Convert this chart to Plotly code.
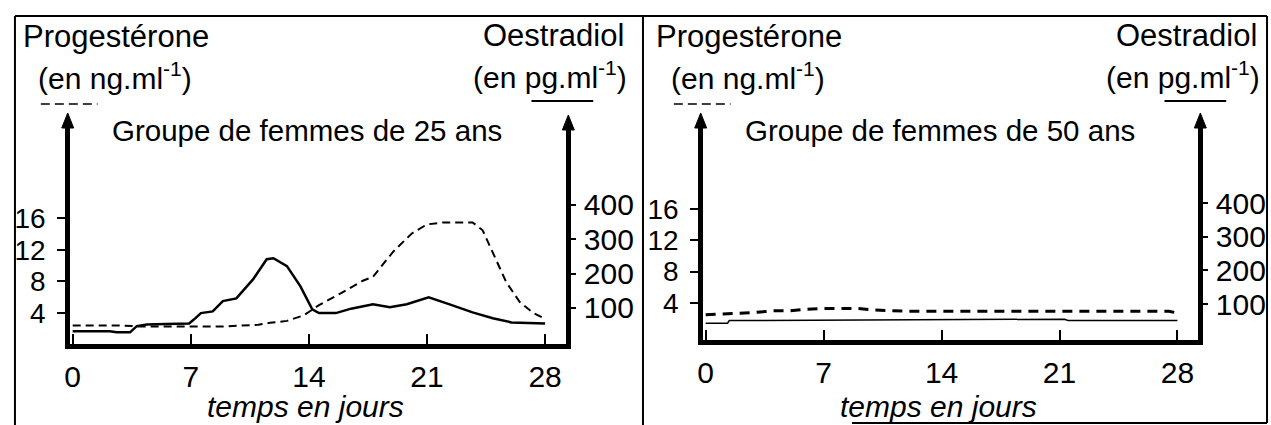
import plotly.graph_objects as go

W, H = 1271, 425
FONT = "Liberation Sans, Arial, sans-serif"

# ---------------- data ----------------
# Panel 1 : women aged 25
prog25_days = [0, 1, 2, 3, 4, 5, 6, 7, 8, 9, 10, 11, 11.7, 12.7, 13.7, 14.6, 15.8,
               16.5, 17.2, 17.8, 19, 20.1, 21, 22, 23, 23.7, 24.3, 25.1, 25.7, 26.5, 27.3, 28]
prog25_vals = [2.4, 2.4, 2.4, 2.4, 2.3, 2.3, 2.3, 2.3, 2.3, 2.3, 2.4, 2.5, 2.75, 3.0, 3.7, 5.0, 6.4,
               7.2, 8.1, 8.6, 11.8, 14.1, 15.25, 15.5, 15.5, 15.5, 14.5, 10.75, 7.9, 5.4, 4.0, 3.25]

oestr25_days = [0, 1, 2.2, 2.6, 3.4, 3.8, 4.4, 5.5, 6.9, 7.2, 7.6, 8.3, 8.9, 9.7, 10.7, 11.5,
                11.9, 12.7, 13.5, 14.2, 14.6, 15.6, 16.5, 17.8, 18.8, 19.8, 21.1, 22.3, 23.7,
                24.9, 26, 28]
oestr25_vals = [32, 32, 32, 29, 29, 47, 52, 53, 55, 67, 85, 90, 120, 128, 184, 242,
                245, 222, 163, 96, 85, 85, 98, 111, 102, 111, 131, 111, 87,
                70, 58, 55]

# Panel 2 : women aged 50
prog50_days = [0, 1, 2, 3, 4, 5, 6, 7, 8, 9, 10, 11, 12, 14, 21, 27.5, 28]
prog50_vals = [2.5, 2.6, 2.7, 2.8, 3.0, 3.0, 3.2, 3.3, 3.3, 3.3, 3.1, 3.0, 2.95, 2.95, 2.95, 2.95, 2.7]

oestr50_days = [0, 1.3, 1.4, 8, 20, 20.5, 21.3, 21.5, 28]
oestr50_vals = [43, 43, 51, 52, 53, 55, 55, 51, 51]

day_ticks = [0, 7, 14, 21, 28]
day_labels = ["0", "7", "14", "21", "28"]
prog_ticks = [4, 8, 12, 16]
prog_labels = ["4", "8", "12", "16"]
prog_extra_tick = [20]          # unlabelled tick at the top of the scale
oestr_ticks = [100, 200, 300, 400]
oestr_labels = ["100", "200", "300", "400"]


def px(x):
    return x / W


def py(y):
    return (H - y) / H


fig = go.Figure()
fig.add_trace(go.Scatter(x=prog25_days, y=prog25_vals, xaxis="x", yaxis="y", mode="lines",
                         line=dict(color="black", width=2, dash="8px,5px"), hoverinfo="skip"))
fig.add_trace(go.Scatter(x=oestr25_days, y=oestr25_vals, xaxis="x", yaxis="y2", mode="lines",
                         line=dict(color="black", width=2.5), hoverinfo="skip"))
fig.add_trace(go.Scatter(x=prog50_days, y=prog50_vals, xaxis="x2", yaxis="y3", mode="lines",
                         line=dict(color="black", width=3, dash="10px,7px"), hoverinfo="skip"))
fig.add_trace(go.Scatter(x=oestr50_days, y=oestr50_vals, xaxis="x2", yaxis="y4", mode="lines",
                         line=dict(color="black", width=1.5), hoverinfo="skip"))

common = dict(showgrid=False, zeroline=False, fixedrange=True, color="black")

# panel geometry (pixel positions of axis line centres)
P = [
    dict(left=62, right=565, bottom=346, top=125, xr=(-0.147, 29.23),
         yr=(0.127, 27.87), y2r=(-3.5, 633)),
    dict(left=698, right=1200, bottom=342, top=121, xr=(-0.148, 29.21),
         yr=(-0.664, 27.23), y2r=(-5.35, 643.6)),
]

layout = dict(width=W, height=H, margin=dict(l=0, r=0, t=0, b=0),
              paper_bgcolor="white", plot_bgcolor="white", showlegend=False,
              font=dict(family=FONT, color="black"))

names = [("xaxis", "xaxis3", "yaxis", "yaxis2", "yaxis5", "x", "y"),
         ("xaxis2", "xaxis4", "yaxis3", "yaxis4", "yaxis6", "x2", "y3")]

for p, (xa, xin, ya, ya2, yex, xid, yid) in zip(P, names):
    xdom = [px(p["left"] + 2.5), px(p["right"] - 2.5)]
    ydom = [py(p["bottom"] - 2.5), py(p["top"])]
    # labelled axis: ticks drawn inside (above the line), labels close to the line
    layout[xa] = dict(domain=xdom, range=list(p["xr"]), anchor=yid, showline=True,
                      linewidth=5, linecolor="black", ticks="inside", ticklen=10,
                      tickwidth=2, tickcolor="black", tickvals=day_ticks,
                      ticktext=day_labels, tickfont=dict(size=30, family=FONT),
                      ticklabelstandoff=2, **common)
    # twin axis: the part of the ticks below the line
    layout[xin] = dict(domain=xdom, range=list(p["xr"]), anchor=yid, overlaying=xid,
                       showline=False, ticks="outside", ticklen=7, tickwidth=2,
                       tickcolor="black", tickvals=day_ticks[1:], showticklabels=False,
                       **common)
    layout[ya] = dict(domain=ydom, range=list(p["yr"]), anchor=xid, side="left",
                      showline=True, linewidth=5, linecolor="black", ticks="outside",
                      ticklen=8, tickwidth=2, tickcolor="black", tickvals=prog_ticks,
                      ticktext=prog_labels, tickfont=dict(size=28, family=FONT),
                      ticklabelstandoff=6, **common)
    layout[yex] = dict(range=list(p["yr"]), anchor=xid, overlaying=yid, side="left",
                       showline=False, ticks="outside", ticklen=8, tickwidth=2,
                       tickcolor="black", tickvals=prog_extra_tick, showticklabels=False,
                       **common)
    layout[ya2] = dict(range=list(p["y2r"]), anchor=xid, overlaying=yid, side="right",
                       showline=True, linewidth=5, linecolor="black", ticks="outside",
                       ticklen=5, tickwidth=2, tickcolor="black", tickvals=oestr_ticks,
                       ticktext=oestr_labels, tickfont=dict(size=30, family=FONT),
                       ticklabelstandoff=2, **common)

fig.update_layout(**layout)

ann = []


def text(x, y, s, size=30, xanchor="center"):
    ann.append(dict(x=px(x), y=py(y), xref="paper", yref="paper", text=s, showarrow=False,
                    xanchor=xanchor, yanchor="middle", font=dict(size=size, family=FONT)))


for dx, age in [(0, "25"), (636, "50")]:
    text(111 + dx, 37, "Progestérone", size=31)
    text(110 + dx, 76, "(en ng.ml<sup>-1</sup>)")
    text(550 + dx, 35, "Oestradiol", size=31)
    text(547 + dx, 75, "(en pg.ml<sup>-1</sup>)")
    text(302 + dx, 130, "Groupe de femmes de " + age + " ans", size=29.5)
    text(301 + dx, 406, "<i>temps en jours</i>", size=30)

shapes = []
# arrow heads on top of the vertical axes (filled triangles)
for x, ytip in [(62, 113), (565, 115), (698, 113), (1200, 113)]:
    path = "M {:.5f},{:.5f} L {:.5f},{:.5f} L {:.5f},{:.5f} Z".format(
        px(x), py(ytip), px(x - 6), py(ytip + 15), px(x + 6), py(ytip + 15))
    shapes.append(dict(type="path", xref="paper", yref="paper", path=path,
                       fillcolor="black", line=dict(color="black", width=1)))
    shapes.append(dict(type="line", xref="paper", yref="paper", x0=px(x), x1=px(x),
                       y0=py(ytip + 12), y1=py(ytip + 30), line=dict(color="black", width=4)))

# legend keys under the axis names
for dx in [0, 636]:
    shapes.append(dict(type="line", xref="paper", yref="paper", x0=px(35 + dx), x1=px(92 + dx),
                       y0=py(104), y1=py(104), line=dict(color="black", width=1.5, dash="9px,5px")))
    shapes.append(dict(type="line", xref="paper", yref="paper", x0=px(528 + dx), x1=px(590 + dx),
                       y0=py(101), y1=py(101), line=dict(color="black", width=2)))
# frame
frame = [((9, 16), (1267, 16)), ((9, 16), (9, 425)), ((640, 16), (640, 425)),
         ((1267, 16), (1267, 423)), ((850, 423), (1267, 423))]
for (x0, y0), (x1, y1) in frame:
    shapes.append(dict(type="line", xref="paper", yref="paper", x0=px(x0), x1=px(x1),
                       y0=py(y0), y1=py(y1), line=dict(color="black", width=2)))

fig.update_layout(annotations=ann, shapes=shapes)
fig.write_html("out.html", config={"displayModeBar": False, "staticPlot": True},
               post_script="document.body.style.margin='0';document.body.style.overflow='hidden';")
